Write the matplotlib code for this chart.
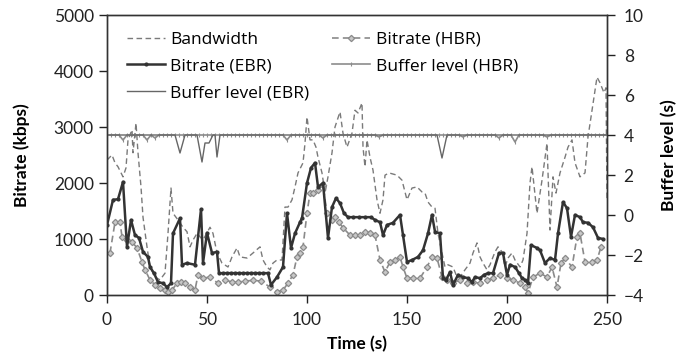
import numpy as np
import matplotlib.pyplot as plt

# Bandwidth trace (kbps)
bw_t = [0, 2.5, 4, 5.5, 8, 9.5, 10.5, 12.5, 13, 14.5, 15.5, 17, 18, 20, 21.5, 24, 26.5, 29,
        30.5, 32, 33, 35.5, 38, 40, 41.5, 43, 45, 48, 51.5, 53, 55, 57.5, 60.5, 62.5, 65,
        66.5, 70, 73, 76.5, 78, 80, 81.5, 83, 85, 87.5, 89, 90.5, 92.5, 94, 95.5, 98, 99,
        100, 101.5, 103, 104.5, 105.5, 107.5, 109, 110.5, 112.5, 114, 116.5, 118, 120,
        122.5, 124, 125.5, 127.5, 128, 129, 130, 131.5, 133, 135, 136.5, 138, 139, 141,
        145, 147.5, 150, 152.5, 155, 157.5, 159, 160.5, 162.5, 164, 165.5, 167.5, 169,
        170.5, 173, 175, 176.5, 179, 181.5, 183, 185, 186.5, 188, 190, 191.5, 194, 195.5,
        197.5, 199, 200.5, 202.5, 204, 206.5, 208, 210, 211.5, 212.5, 215, 217.5, 220,
        221.5, 223, 224.5, 226.5, 229, 230.5, 232.5, 234, 236.5, 239, 240.5, 242.5, 245,
        246.5, 248.5, 249.5, 250]
bw_v = [2410, 2500, 2360, 2290, 2110, 2270, 2770, 2950, 2540, 3070, 2540, 1930, 1390, 860,
        500, 320, 270, 390, 1100, 1910, 1460, 1340, 1210, 1130, 860, 980, 1100, 980, 1210,
        1100, 750, 570, 500, 680, 840, 680, 660, 750, 860, 625, 500, 450, 570, 625, 625,
        1570, 1570, 1700, 1930, 2180, 2360, 2710, 3180, 2770, 2770, 2640, 2460, 2180, 1820,
        2110, 2540, 3000, 3270, 2890, 2640, 2890, 3300, 3250, 3430, 2640, 2290, 2770, 2460,
        2230, 1700, 1460, 1700, 2140, 2180, 2140, 2050, 1700, 1910, 1930, 1840, 1820, 1660,
        1570, 1550, 1100, 750, 500, 540, 500, 320, 320, 450, 570, 750, 930, 680, 570, 450,
        540, 770, 860, 770, 500, 660, 750, 625, 500, 625, 1100, 2000, 2290, 1460, 2050,
        2710, 1160, 2110, 1820, 2180, 2460, 2640, 2770, 2360, 2110, 2180, 2820, 3300, 3890,
        3790, 3610, 3700, 1700]

# Bitrate with HBR (kbps)
hbr_t = [1.5, 4, 6.5, 7.5, 10, 12.5, 15, 17.5, 19, 21.5, 24, 26.5, 29, 30.5, 32.5, 35, 37,
         39, 41.5, 44, 45.5, 48, 51.5, 55.5, 59, 62.5, 65.5, 69, 73, 77, 81.5, 85, 88, 90.5,
         93, 95, 96.5, 98, 100, 101.5, 103, 105.5, 108, 110, 112.5, 114, 116, 118, 121.5,
         124, 126.5, 129, 131.5, 134, 136.5, 139, 141.5, 144, 146.5, 148, 150, 153, 156.5,
         160, 162.5, 165, 167.5, 170, 173, 176.5, 180, 183, 186.5, 190, 193, 196.5, 200,
         203, 206.5, 209, 210.5, 213, 216.5, 220, 222.5, 225, 227, 229, 232.5, 235, 236.5,
         239, 242.5, 245, 247]
hbr_v = [750, 1300, 1300, 1040, 980, 950, 840, 590, 450, 270, 180, 125, 90, 55, 90, 210,
         230, 210, 140, 90, 360, 300, 320, 210, 270, 230, 230, 250, 260, 250, 140, 55, 90,
         210, 360, 680, 750, 860, 1460, 1820, 1820, 1880, 1960, 1460, 1340, 1390, 1300, 1200,
         1070, 1070, 1070, 1130, 1110, 1070, 625, 410, 590, 625, 680, 500, 300, 300, 300,
         500, 680, 660, 320, 270, 210, 270, 210, 230, 210, 270, 300, 360, 300, 270, 210, 140,
         35, 320, 390, 320, 500, 140, 570, 660, 500, 1040, 1100, 590, 590, 620, 860]

# Bitrate with EBR (kbps)
ebr_t = [0, 3, 5.5, 8, 10, 12, 14, 16, 18, 20.5, 21.5, 23.5, 25.5, 28, 30, 32, 33, 36.5,
         37.5, 40, 44, 47, 48, 50, 52.5, 55, 56, 58, 60, 62, 64, 66, 68, 70, 72, 74, 76, 78,
         80.5, 82, 85, 88, 90, 92, 94, 96.5, 97.5, 100, 102, 104, 105.5, 108, 110.5, 112.5,
         114.5, 116.5, 118.5, 120.5, 123, 126, 129, 132, 134, 136.5, 138, 140, 143, 146.5,
         148, 150, 152.5, 155.5, 158, 160.5, 162.5, 164, 166.5, 168, 169.5, 171.5, 173,
         175.5, 178, 180.5, 182.5, 184, 186.5, 188.5, 190.5, 193, 196, 198, 200, 201.5, 204,
         206, 207.5, 209, 210.5, 212, 215, 216.5, 219, 221.5, 224, 225.5, 228, 230, 232, 234,
         236.5, 238, 240.5, 243, 245.5, 248]
ebr_v = [1250, 1700, 1710, 2020, 860, 1340, 1070, 1020, 770, 680, 500, 390, 230, 210, 140,
         210, 1100, 1370, 540, 570, 540, 1530, 570, 1110, 750, 770, 390, 390, 390, 390, 390,
         390, 390, 390, 390, 390, 390, 390, 390, 180, 320, 500, 1460, 840, 1100, 1300, 1370,
         2000, 2270, 2360, 1930, 2000, 1020, 1570, 1730, 1640, 1460, 1390, 1390, 1390, 1390,
         1390, 1340, 1300, 1070, 1250, 1290, 1430, 1070, 590, 625, 680, 800, 1100, 1430,
         1130, 1100, 300, 270, 410, 180, 360, 320, 300, 230, 320, 300, 360, 390, 390, 750,
         750, 360, 540, 500, 390, 300, 270, 210, 890, 840, 800, 570, 660, 625, 1100, 1660,
         1550, 1040, 1430, 1390, 1300, 1290, 1210, 1020, 1000]

# Buffer level with HBR (s), one sample every 2 s
buf_hbr_t = np.arange(0, 251, 2)
buf_hbr_v = [4, 4, 4, 4, 3.75, 4, 4, 4, 4, 4, 3.75, 4, 3.85, 4, 4, 4,
             4, 4, 4, 4, 4, 4, 4, 4, 4, 4, 4, 4, 4, 4, 4, 4,
             4, 4, 4, 4, 4, 4, 4, 4, 4, 4, 4, 4, 4, 3.75, 4, 4,
             4, 4, 4, 4, 4, 4, 3.85, 4, 4, 4, 4, 4, 4, 4, 4, 4,
             4, 4, 4, 4, 3.9, 4, 4, 4, 4, 4, 4, 4, 4, 4, 4, 4,
             4, 4, 4, 4, 4, 4, 4, 4, 4, 3.9, 4, 4, 4, 4, 4, 4,
             4, 4, 3.85, 4, 4, 4, 3.65, 4, 4, 4, 4, 4, 4, 4, 3.9, 4,
             4, 4, 4, 4, 4, 4, 4, 4, 4, 4, 4, 4, 4, 4]

# Buffer level with EBR (s)
buf_ebr_t = [0, 34, 36.5, 39, 45, 47.5, 49, 51, 53, 54, 55, 56.5, 165, 167.5, 170, 250]
buf_ebr_v = [4, 4, 3.1, 4, 4, 2.65, 3.6, 3.6, 4, 4, 2.9, 4, 4, 2.85, 4, 4]

plt.rcParams['font.family'] = 'Lato'

fig = plt.figure(figsize=(6.88, 3.56), dpi=100)
ax = fig.add_axes([107 / 688, 61 / 356, 500 / 688, 280 / 356])
ax2 = ax.twinx()

l_bw, = ax.plot(bw_t, bw_v, color='#7a7a7a', lw=1.0, ls=(0, (4, 2.5)))
l_hbr, = ax.plot(hbr_t, hbr_v, color='#8a8a8a', lw=1.2, ls=(0, (4, 2.5)),
                 marker='D', ms=3.2, mfc='#c8c8c8', mec='#8a8a8a', mew=0.9)
l_ebr, = ax.plot(ebr_t, ebr_v, color='#333333', lw=1.8, marker='o', ms=2.0,
                 mfc='#333333', mec='#333333')
l_bh, = ax2.plot(buf_hbr_t, buf_hbr_v, color='#8c8c8c', lw=1.2, marker='|', ms=3,
                 mew=0.8)
l_be, = ax2.plot(buf_ebr_t, buf_ebr_v, color='#666666', lw=1.0)

ax.set_xlim(0, 250)
ax.set_ylim(0, 5000)
ax2.set_ylim(-4, 10)
ax.set_xticks(range(0, 251, 50))
ax.set_yticks(range(0, 5001, 1000))
ax2.set_yticks(range(-4, 11, 2))

for a in (ax, ax2):
    a.tick_params(direction='out', length=6, width=1, labelsize=12.5, colors='#222222')
    for s in a.spines.values():
        s.set_color('#333333')
        s.set_linewidth(1.0)
ax.tick_params(axis='x', pad=6)
ax2.tick_params(axis='y', pad=6)

ax.set_xlabel('Time (s)', fontsize=12.5, fontweight='bold', labelpad=6)
ax.set_ylabel('Bitrate (kbps)', fontsize=12.5, fontweight='bold', labelpad=17)
ax2.set_ylabel('Buffer level (s)', fontsize=12.5, fontweight='bold', labelpad=12)

ax.legend([l_bw, l_ebr, l_be, l_hbr, l_bh],
          ['Bandwidth', 'Bitrate (EBR)', 'Buffer level (EBR)', 'Bitrate (HBR)', 'Buffer level (HBR)'],
          ncol=2, loc='upper left', bbox_to_anchor=(0.04, 0.94), frameon=False,
          borderpad=0, borderaxespad=0,
          prop={'family': 'Open Sans', 'size': 12.5}, handlelength=2.2,
          handletextpad=0.3, columnspacing=1.3, labelspacing=0.6)

fig.savefig('out.png', dpi=100)
